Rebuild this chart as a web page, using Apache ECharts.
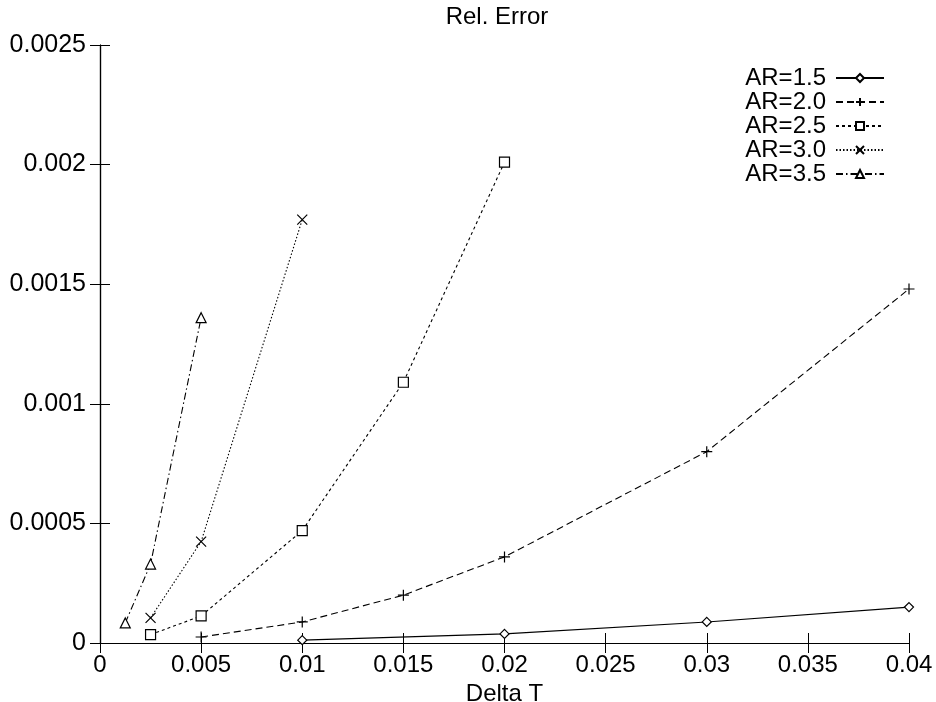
<!DOCTYPE html>
<html>
<head>
<meta charset="utf-8">
<script src="https://cdn.jsdelivr.net/npm/echarts@6/dist/echarts.min.js"></script>
<style>html,body{margin:0;padding:0;background:#fff;}#c{width:936px;height:702px;}</style>
</head>
<body>
<div id="c"></div>
<script>
const seriesNames = ['AR=1.5', 'AR=2.0', 'AR=2.5', 'AR=3.0', 'AR=3.5'];
const ar15 = [[0.01, 0.000012], [0.02, 0.000038], [0.03, 0.000088], [0.04, 0.00015]];
const ar20 = [[0.005, 0.000025], [0.01, 0.000088], [0.015, 0.0002], [0.02, 0.00036], [0.03, 0.0008], [0.04, 0.00148]];
const ar25 = [[0.0025, 0.000035], [0.005, 0.000113], [0.01, 0.00047], [0.015, 0.00109], [0.02, 0.00201]];
const ar30 = [[0.0025, 0.000105], [0.005, 0.000424], [0.01, 0.00177]];
const ar35 = [[0.00125, 0.000084], [0.0025, 0.00033], [0.005, 0.00136]];
const xTickLabels = ['0', '0.005', '0.01', '0.015', '0.02', '0.025', '0.03', '0.035', '0.04'];
const yTickLabels = ['0', '0.0005', '0.001', '0.0015', '0.002', '0.0025'];

const FONT = 'Liberation Sans';
const FS = 24;
const chart = echarts.init(document.getElementById('c'), null, {renderer: 'canvas'});

const plusPath = 'path://M0,5L10,5M5,0L5,10';
const crossPath = 'path://M0,0L10,10M0,10L10,0';

function mk(name, data, symbol, size, dash, filled) {
  return {
    name: name, type: 'line', data: data,
    symbol: symbol, symbolSize: size,
    showSymbol: true,
    lineStyle: {color: '#000', width: 1.1, type: dash},
    itemStyle: {color: filled ? '#fff' : 'rgba(0,0,0,0)', borderColor: '#000', borderWidth: 1.2},
    emphasis: {disabled: true},
    animation: false
  };
}

const tickStyle = {inside: true, length: 10, lineStyle: {color: '#000', width: 1}};
const lineStyleAx = {show: true, lineStyle: {color: '#000', width: 1.2}};

chart.setOption({
  backgroundColor: '#fff',
  animation: false,
  title: {
    text: 'Rel. Error', left: 492, top: 0, textAlign: 'center',
    textStyle: {fontFamily: FONT, fontSize: FS, fontWeight: 'normal', color: '#000'}
  },
  legend: {
    data: seriesNames,
    orient: 'vertical', right: 51, top: 66, align: 'right', padding: 0,
    itemWidth: 48, itemHeight: 10, itemGap: 0,
    textStyle: {fontFamily: FONT, fontSize: FS, color: '#000', lineHeight: 23.5, padding: [0, 5, 0, 0]},
    selectedMode: false
  },
  grid: {left: 100, right: 27, top: 45, bottom: 59, containLabel: false, outerBoundsMode: 'none'},
  xAxis: [{
    type: 'value', min: 0, max: 0.04, interval: 0.005,
    name: 'Delta T', nameLocation: 'middle', nameGap: 33,
    nameTextStyle: {fontFamily: FONT, fontSize: FS, color: '#000'},
    axisLine: lineStyleAx, axisTick: tickStyle, splitLine: {show: false},
    axisLabel: {fontFamily: FONT, fontSize: FS, color: '#000', margin: 10,
      formatter: (v) => xTickLabels[Math.round(v / 0.005)]}
  }, {
    type: 'value', position: 'top', min: 0, max: 0.04, interval: 0.005,
    axisLine: lineStyleAx, axisTick: tickStyle, splitLine: {show: false},
    axisLabel: {show: false}
  }],
  yAxis: [{
    type: 'value', min: 0, max: 0.0025, interval: 0.0005,
    axisLine: lineStyleAx, axisTick: tickStyle, splitLine: {show: false},
    axisLabel: {fontFamily: FONT, fontSize: 25, color: '#000', margin: 14,
      formatter: (v) => yTickLabels[Math.round(v / 0.0005)]}
  }, {
    type: 'value', position: 'right', min: 0, max: 0.0025, interval: 0.0005,
    axisLine: lineStyleAx, axisTick: tickStyle, splitLine: {show: false},
    axisLabel: {show: false}
  }],
  series: [
    mk(seriesNames[0], ar15, 'diamond', 9, 'solid', true),
    mk(seriesNames[1], ar20, plusPath, 11, [7, 4], false),
    mk(seriesNames[2], ar25, 'rect', 10, [3, 3], true),
    mk(seriesNames[3], ar30, crossPath, 10, [1.5, 2], false),
    mk(seriesNames[4], ar35, 'triangle', 10, [7, 3, 1.5, 3], true)
  ]
});
</script>
</body>
</html>
